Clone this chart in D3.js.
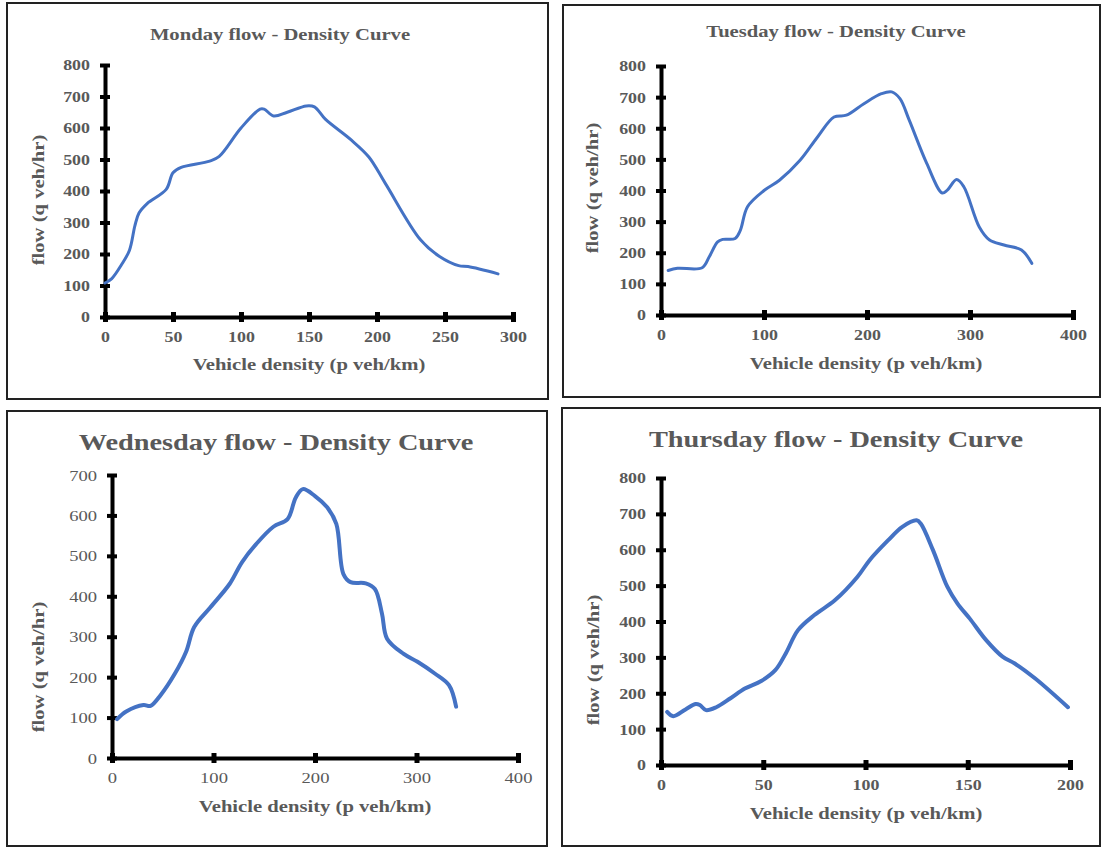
<!DOCTYPE html>
<html><head><meta charset="utf-8">
<script src="https://cdn.jsdelivr.net/npm/d3@7"></script>
<style>body{margin:0;background:#fff} svg{display:block}</style>
</head><body>
<svg id="c" width="1104" height="848"></svg>
<script>
// ---------- data ----------
const xAxisTitle = "Vehicle density (p veh/km)";
const yAxisTitle = "flow (q veh/hr)";

const mondayTitle = "Monday flow - Density Curve";
const mondayDensity = [0,5,12,18,22,25,31,45,50,56,77,84,100,114,117,124,134,148,154,162,181,194,206,232,246,260,267,289];
const mondayFlow    = [108,122,165,212,290,330,360,405,458,475,495,510,600,660,660,638,650,670,667,628,562,508,425,245,192,163,160,137];
const mondayXTicks = [0,50,100,150,200,250,300];
const mondayYTicks = [0,100,200,300,400,500,600,700,800];

const tuesdayTitle = "Tuesday flow - Density Curve";
const tuesdayDensity = [7,16,40,47,55,60,72,77,84,100,115,135,152,168,180,197,214,224,232,241,258,273,278,287,294,309,319,333,350,360];
const tuesdayFlow    = [143,150,152,188,235,243,246,272,348,400,433,497,572,636,642,679,711,717,695,626,487,392,401,435,412,283,241,225,209,166];
const tuesdayXTicks = [0,100,200,300,400];
const tuesdayYTicks = [0,100,200,300,400,500,600,700,800];

const wednesdayTitle = "Wednesday flow - Density Curve";
const wednesdayDensity = [5,14,31,38,48,62,73,81,97,116,128,142,159,173,181,188,200,212,221,228,235,250,259,266,271,287,301,318,332,339];
const wednesdayFlow    = [96,115,131,129,156,209,263,324,373,431,484,529,572,591,644,665,648,620,579,455,435,432,418,357,295,258,238,209,180,127];
const wednesdayXTicks = [0,100,200,300,400];
const wednesdayYTicks = [0,100,200,300,400,500,600,700];

const thursdayTitle = "Thursday flow - Density Curve";
const thursdayDensity = [3,6,12,17,19,22,27,34,41,49,56,61,67,75,85,96,102,111,118,125,127,133,140,145,151,159,167,173,183,199];
const thursdayFlow    = [148,136,155,170,167,153,161,186,213,234,265,311,376,418,459,524,571,626,664,682,673,599,497,450,408,348,302,283,241,161];
const thursdayXTicks = [0,50,100,150,200];
const thursdayYTicks = [0,100,200,300,400,500,600,700,800];

// ---------- layout ----------
const panels = [
  {title: mondayTitle, dens: mondayDensity, flow: mondayFlow, xt: mondayXTicks, yt: mondayYTicks,
   frame: [7,3,548,399], x0:105, x1:513, y0:317, y1:65, titleX:280, titleY:40, titleSize:17.5,
   xtX:309, xtY:370, ytX:44, ytY:200, tickBold:true, lw:3},
  {title: tuesdayTitle, dens: tuesdayDensity, flow: tuesdayFlow, xt: tuesdayXTicks, yt: tuesdayYTicks,
   frame: [563,5,1100,397], x0:661, x1:1073, y0:315, y1:66, titleX:836, titleY:37, titleSize:17.5,
   xtX:866, xtY:369, ytX:598, ytY:188, tickBold:true, lw:3},
  {title: wednesdayTitle, dens: wednesdayDensity, flow: wednesdayFlow, xt: wednesdayXTicks, yt: wednesdayYTicks,
   frame: [7,411,547,846], x0:112, x1:518, y0:758, y1:475, titleX:276, titleY:450, titleSize:24,
   xtX:315, xtY:812, ytX:44, ytY:667, tickBold:false, lw:4},
  {title: thursdayTitle, dens: thursdayDensity, flow: thursdayFlow, xt: thursdayXTicks, yt: thursdayYTicks,
   frame: [562,408,1100,846], x0:661, x1:1070, y0:765, y1:478, titleX:836, titleY:447, titleSize:24,
   xtX:866, xtY:819, ytX:599, ytY:660, tickBold:true, lw:4}
];

const svg = d3.select("#c");
const FONT = "'Liberation Serif','Times New Roman',serif";
const TXT = "#595959";
const SX = 1.18;   // horizontal stretch of text
const TSX = 1.28;  // stretch for tick labels

panels.forEach(p => {
  const [fx0, fy0, fx1, fy1] = p.frame;
  svg.append("rect").attr("x", fx0).attr("y", fy0).attr("width", fx1 - fx0).attr("height", fy1 - fy0)
    .attr("fill", "none").attr("stroke", "#222").attr("stroke-width", 2);

  const xMax = p.xt[p.xt.length - 1], yMax = p.yt[p.yt.length - 1];
  const x = d3.scaleLinear().domain([0, xMax]).range([0, p.x1 - p.x0]);
  const y = d3.scaleLinear().domain([0, yMax]).range([p.y0 - p.y1, 0]);
  const g = svg.append("g").attr("transform", `translate(${p.x0},${p.y1})`);

  // y axis
  const ya = g.append("g").call(d3.axisLeft(y).tickValues(p.yt).tickSizeInner(5).tickSizeOuter(0).tickFormat(d3.format("d")));
  ya.select(".domain").attr("stroke", "#000").attr("stroke-width", 4);
  ya.selectAll(".tick line").attr("x1", 5).attr("x2", -5).attr("stroke", "#000").attr("stroke-width", 4);
  ya.selectAll(".tick text").attr("x", -15 / TSX).attr("dy", "0.35em").attr("transform", `scale(${TSX},1)`)
    .attr("fill", TXT).style("font-family", FONT).style("font-size", p.tickBold ? "14px" : "14.5px")
    .style("font-weight", p.tickBold ? "bold" : "normal");

  // x axis
  const xa = g.append("g").attr("transform", `translate(0,${p.y0 - p.y1})`)
    .call(d3.axisBottom(x).tickValues(p.xt).tickSizeInner(5).tickSizeOuter(0).tickFormat(d3.format("d")));
  xa.select(".domain").attr("stroke", "#000").attr("stroke-width", 4);
  xa.selectAll(".tick line").attr("y1", -5).attr("y2", 5).attr("stroke", "#000").attr("stroke-width", 5);
  xa.selectAll(".tick text").attr("y", 25).attr("dy", 0).attr("transform", `scale(${TSX},1)`)
    .attr("x", 0)
    .attr("fill", TXT).style("font-family", FONT).style("font-size", p.tickBold ? "14px" : "14.5px")
    .style("font-weight", p.tickBold ? "bold" : "normal");
  // fix horizontal positions after scale: translate each tick text back
  xa.selectAll(".tick text").attr("transform", `scale(${TSX},1)`);
  xa.selectAll(".tick").each(function(d) {
    // tick group is translated by x(d); scaling text about group origin keeps it centered
  });

  // curve
  const pts = p.dens.map((d, i) => [d, p.flow[i]]);
  g.append("path").datum(pts)
    .attr("fill", "none").attr("stroke", "#4472C4").attr("stroke-width", p.lw)
    .attr("stroke-linecap", "round").attr("stroke-linejoin", "round")
    .attr("d", d3.line().x(d => x(d[0])).y(d => y(d[1])).curve(d3.curveCatmullRom.alpha(0.5)));

  // titles
  svg.append("text").attr("transform", `translate(${p.titleX},${p.titleY}) scale(${SX},1)`)
    .attr("text-anchor", "middle").attr("fill", TXT).style("font-family", FONT)
    .style("font-weight", "bold").style("font-size", p.titleSize + "px").text(p.title);
  svg.append("text").attr("transform", `translate(${p.xtX},${p.xtY}) scale(${SX},1)`)
    .attr("text-anchor", "middle").attr("fill", TXT).style("font-family", FONT)
    .style("font-weight", "bold").style("font-size", "17.5px").text(xAxisTitle);
  svg.append("text").attr("transform", `translate(${p.ytX},${p.ytY}) rotate(-90) scale(${SX},1)`)
    .attr("text-anchor", "middle").attr("fill", TXT).style("font-family", FONT)
    .style("font-weight", "bold").style("font-size", "17.5px").text(yAxisTitle);
});
</script>
</body></html>
